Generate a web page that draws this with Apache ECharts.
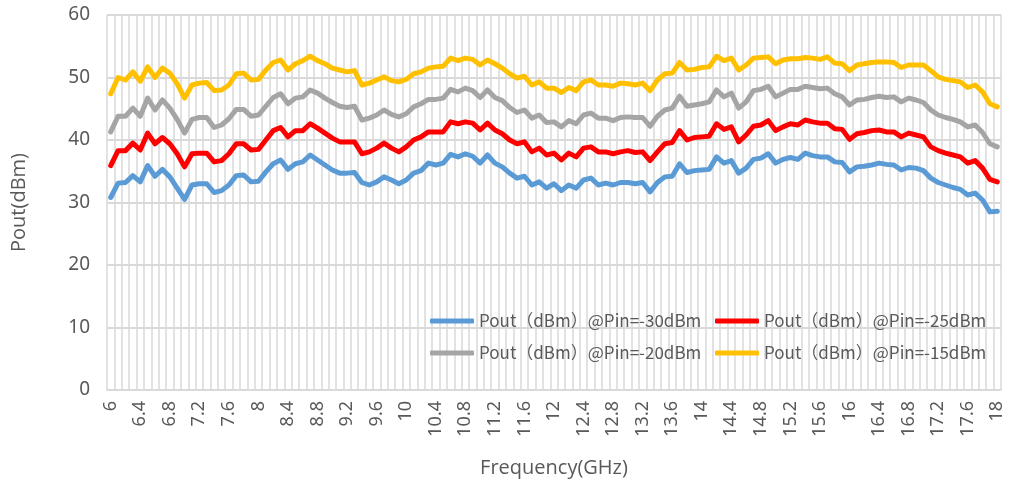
<!DOCTYPE html>
<html>
<head>
<meta charset="utf-8">
<script src="https://cdn.jsdelivr.net/npm/echarts@6/dist/echarts.min.js"></script>
<style>
  html, body { margin: 0; padding: 0; background: #fff; }
  #chart { width: 1011px; height: 490px; }
</style>
</head>
<body>
<div id="chart"></div>
<script>
// 频率 6 ~ 18 GHz, 步进 0.1
const freqList = [
  '6', '6.1', '6.2', '6.3', '6.4', '6.5', '6.6', '6.7', '6.8', '6.9',
  '7', '7.1', '7.2', '7.3', '7.4', '7.5', '7.6', '7.7', '7.8', '7.9',
  '8', '8.1', '8.2', '8.3', '8.4', '8.5', '8.6', '8.7', '8.8', '8.9',
  '9', '9.1', '9.2', '9.3', '9.4', '9.5', '9.6', '9.7', '9.8', '9.9',
  '10', '10.1', '10.2', '10.3', '10.4', '10.5', '10.6', '10.7', '10.8', '10.9',
  '11', '11.1', '11.2', '11.3', '11.4', '11.5', '11.6', '11.7', '11.8', '11.9',
  '12', '12.1', '12.2', '12.3', '12.4', '12.5', '12.6', '12.7', '12.8', '12.9',
  '13', '13.1', '13.2', '13.3', '13.4', '13.5', '13.6', '13.7', '13.8', '13.9',
  '14', '14.1', '14.2', '14.3', '14.4', '14.5', '14.6', '14.7', '14.8', '14.9',
  '15', '15.1', '15.2', '15.3', '15.4', '15.5', '15.6', '15.7', '15.8', '15.9',
  '16', '16.1', '16.2', '16.3', '16.4', '16.5', '16.6', '16.7', '16.8', '16.9',
  '17', '17.1', '17.2', '17.3', '17.4', '17.5', '17.6', '17.7', '17.8', '17.9',
  '18'
]

const pout30 = [
  30.8, 33.1, 33.2, 34.3, 33.3, 35.9, 34.2, 35.3, 34.1, 32.3, 30.5, 32.8, 33.0, 33.0, 31.6, 31.9, 32.8, 34.3, 34.4, 33.3, 33.4, 34.9, 36.2, 36.8, 35.3, 36.2, 36.5, 37.6,
  36.8, 36.0, 35.2, 34.7, 34.7, 34.8, 33.2, 32.8, 33.3, 34.1, 33.6, 33.0, 33.6, 34.7, 35.1, 36.3, 36.0, 36.3, 37.7, 37.3, 37.8, 37.4, 36.3, 37.6, 36.3, 35.7, 34.7, 33.9, 34.2, 32.8, 33.3, 32.3,
  33.0, 31.9, 32.8, 32.3, 33.6, 33.9, 32.8, 33.1, 32.8, 33.2, 33.2, 33.0, 33.2, 31.7, 33.2, 34.1, 34.2, 36.2, 34.8, 35.1, 35.2, 35.3, 37.3, 36.3, 36.7, 34.7, 35.5, 36.9, 37.1, 37.8, 36.3, 36.9,
  37.2, 36.9, 37.9, 37.5, 37.3, 37.3, 36.5, 36.4, 34.9, 35.7, 35.8, 36.0, 36.3, 36.1, 36.0, 35.2, 35.6, 35.5, 35.1, 33.9, 33.2, 32.8, 32.4, 32.1, 31.2, 31.5, 30.4, 28.5, 28.6
]
const pout25 = [
  35.9, 38.3, 38.3, 39.5, 38.4, 41.1, 39.4, 40.4, 39.4, 37.8, 35.7, 37.8, 37.9, 37.9, 36.5, 36.7, 37.8, 39.4, 39.4, 38.4, 38.5, 40.0, 41.5, 42.0, 40.5, 41.5, 41.5, 42.6,
  41.9, 41.1, 40.3, 39.7, 39.7, 39.7, 37.8, 38.1, 38.7, 39.5, 38.7, 38.1, 38.9, 40.0, 40.5, 41.3, 41.3, 41.3, 42.9, 42.6, 42.9, 42.7, 41.6, 42.7, 41.6, 41.0, 40.0, 39.4, 39.7, 38.1, 38.7, 37.6,
  37.9, 36.8, 37.9, 37.3, 38.7, 38.9, 38.1, 38.1, 37.8, 38.1, 38.3, 38.0, 38.1, 36.7, 38.1, 39.4, 39.6, 41.5, 40.0, 40.4, 40.5, 40.6, 42.6, 41.7, 42.1, 39.7, 40.8, 42.2, 42.4, 43.1, 41.5, 42.1,
  42.6, 42.4, 43.2, 42.9, 42.7, 42.7, 41.8, 41.7, 40.1, 41.0, 41.2, 41.5, 41.6, 41.3, 41.3, 40.5, 41.1, 40.8, 40.5, 38.9, 38.3, 37.9, 37.6, 37.3, 36.3, 36.7, 35.5, 33.7, 33.3
]
const pout20 = [
  41.3, 43.8, 43.8, 45.1, 43.8, 46.7, 44.8, 46.4, 45.1, 43.3, 41.1, 43.3, 43.6, 43.6, 42.0, 42.4, 43.4, 44.9, 44.9, 43.8, 44.0, 45.4, 46.8, 47.4, 45.8, 46.7, 46.9, 48.0,
  47.5, 46.7, 46.0, 45.4, 45.2, 45.4, 43.2, 43.5, 44.0, 44.8, 44.1, 43.7, 44.2, 45.3, 45.8, 46.5, 46.5, 46.7, 48.1, 47.7, 48.3, 47.9, 46.8, 48.0, 46.8, 46.3, 45.2, 44.4, 44.8, 43.5, 44.0, 42.8,
  42.9, 42.1, 43.1, 42.6, 44.0, 44.3, 43.5, 43.5, 43.1, 43.6, 43.7, 43.6, 43.6, 42.2, 43.8, 44.8, 45.1, 47.0, 45.4, 45.6, 45.8, 46.1, 48.0, 46.9, 47.5, 45.1, 46.1, 47.9, 48.1, 48.6, 46.9, 47.5,
  48.1, 48.1, 48.6, 48.4, 48.2, 48.3, 47.4, 46.9, 45.6, 46.4, 46.5, 46.8, 47.0, 46.8, 46.9, 46.1, 46.7, 46.4, 46.0, 44.8, 44.0, 43.6, 43.3, 42.9, 42.1, 42.4, 41.2, 39.4, 38.9
]
const pout15 = [
  47.4, 50.0, 49.6, 50.9, 49.4, 51.7, 50.0, 51.5, 50.7, 49.0, 46.7, 48.8, 49.1, 49.2, 47.9, 48.0, 48.8, 50.6, 50.7, 49.6, 49.7, 51.2, 52.4, 52.8, 51.2, 52.2, 52.7, 53.4,
  52.7, 52.2, 51.5, 51.2, 50.9, 51.1, 48.8, 49.1, 49.6, 50.1, 49.5, 49.3, 49.7, 50.6, 50.9, 51.5, 51.7, 51.8, 53.1, 52.7, 53.1, 52.9, 52.0, 52.8, 52.2, 51.5, 50.6, 49.9, 50.2, 48.8, 49.3, 48.3,
  48.3, 47.6, 48.4, 47.9, 49.3, 49.6, 48.8, 48.8, 48.6, 49.1, 49.0, 48.8, 49.1, 47.9, 49.6, 50.6, 50.7, 52.4, 51.2, 51.3, 51.6, 51.7, 53.4, 52.7, 53.1, 51.2, 52.0, 53.1, 53.2, 53.3, 52.2, 52.8,
  53.0, 53.0, 53.2, 53.1, 52.9, 53.3, 52.3, 52.2, 51.1, 52.0, 52.2, 52.4, 52.5, 52.5, 52.4, 51.6, 52.0, 52.0, 52.0, 51.1, 50.1, 49.7, 49.5, 49.3, 48.4, 48.8, 47.7, 45.8, 45.3
]

const seriesNames = [
  'Pout（dBm）@Pin=-30dBm',
  'Pout（dBm）@Pin=-25dBm',
  'Pout（dBm）@Pin=-20dBm',
  'Pout（dBm）@Pin=-15dBm'
]
const seriesData = [pout30, pout25, pout20, pout15]
const colorList = ['#5B9BD5', '#FF0000', '#A5A5A5', '#FFC000']

const gridColor = '#d9d9d9'
const textColor = '#595959'

const chart = echarts.init(document.getElementById('chart'), null, { renderer: 'canvas' })

let series = seriesNames.map((name, i) => {
  return {
    name: name,
    type: 'line',
    data: seriesData[i],
    symbol: 'none',
    color: colorList[i],
    lineStyle: {
      width: 5,
      color: colorList[i],
      cap: 'round',
      join: 'round'
    }
  }
})

const option = {
  animation: false,
  backgroundColor: '#fff',
  grid: {
    left: 107,
    right: 10,
    top: 15,
    bottom: 100
  },
  legend: {
    data: seriesNames,
    left: 425,
    top: 300,
    width: 580,
    itemWidth: 44,
    itemHeight: 5,
    itemGap: 0,
    icon: 'roundRect',
    textStyle: {
      fontFamily: 'Noto Sans CJK SC',
      fontSize: 17,
      color: textColor,
      width: 236,
      lineHeight: 32
    }
  },
  xAxis: {
    type: 'category',
    data: freqList,
    boundaryGap: true,
    name: 'Frequency(GHz)',
    nameLocation: 'middle',
    nameGap: 68,
    nameTextStyle: {
      fontFamily: 'Open Sans',
      fontSize: 20,
      color: textColor
    },
    axisLine: { lineStyle: { color: gridColor, width: 1.5 } },
    axisTick: { show: false },
    axisLabel: {
      interval: 3,
      rotate: 90,
      margin: 11,
      fontFamily: 'Noto Sans',
      fontSize: 18,
      color: textColor
    },
    splitLine: {
      show: true,
      interval: 0,
      lineStyle: { color: gridColor, width: 1.5 }
    }
  },
  yAxis: {
    type: 'value',
    min: 0,
    max: 60,
    interval: 10,
    name: 'Pout(dBm)',
    nameLocation: 'middle',
    nameGap: 78,
    nameTextStyle: {
      fontFamily: 'Open Sans',
      fontSize: 20,
      color: textColor
    },
    axisLine: { show: false },
    axisTick: { show: false },
    axisLabel: {
      margin: 17,
      fontFamily: 'Noto Sans',
      fontSize: 19,
      color: textColor
    },
    splitLine: {
      lineStyle: { color: gridColor, width: 2 }
    }
  },
  series: series
}

chart.setOption(option)
</script>
</body>
</html>
